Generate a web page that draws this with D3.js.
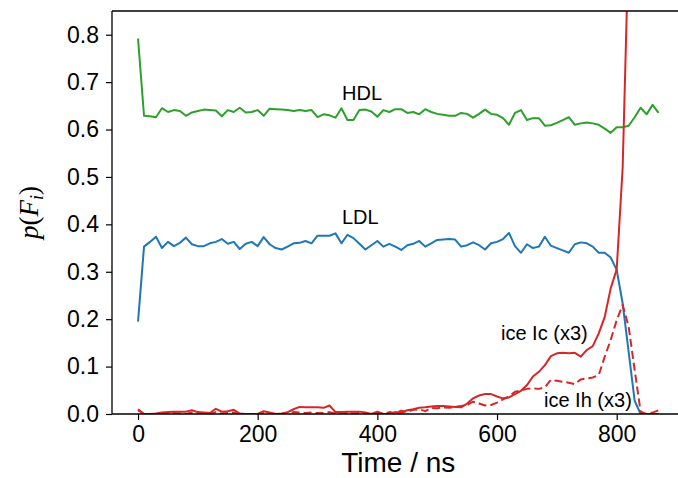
<!DOCTYPE html>
<html>
<head>
<meta charset="utf-8">
<script src="https://cdn.jsdelivr.net/npm/d3@7"></script>
<style>
  html, body { margin: 0; padding: 0; background: #fff; }
  svg { display: block; }
  text { font-family: "Liberation Sans", Arial, Helvetica, sans-serif; fill: #000; }
</style>
</head>
<body>
<svg id="chart" width="678" height="478"></svg>
<script>
const times = [0,10,20,30,40,50,60,70,80,90,100,110,120,130,140,150,160,170,180,190,
  200,210,220,230,240,250,260,270,280,290,300,310,320,330,340,350,360,370,380,390,
  400,410,420,430,440,450,460,470,480,490,500,510,520,530,540,550,560,570,580,590,
  600,610,620,630,640,650,660,670,680,690,700,710,720,730,740,750,760,770,780,790,
  800,810,820,830,840,850,860,870];

const hdl = [0.792,0.629,0.628,0.626,0.645,0.637,0.641,0.639,0.629,0.636,
  0.639,0.642,0.641,0.640,0.628,0.641,0.637,0.646,0.636,0.637,
  0.641,0.629,0.644,0.643,0.642,0.641,0.639,0.641,0.639,0.641,
  0.626,0.632,0.630,0.625,0.645,0.620,0.620,0.641,0.642,0.638,
  0.627,0.641,0.637,0.643,0.643,0.635,0.637,0.632,0.643,0.637,
  0.633,0.631,0.629,0.629,0.635,0.633,0.625,0.633,0.642,0.633,
  0.631,0.624,0.610,0.635,0.641,0.620,0.624,0.624,0.608,0.609,
  0.614,0.620,0.626,0.610,0.613,0.615,0.613,0.610,0.602,0.593,
  0.605,0.605,0.608,0.626,0.646,0.632,0.652,0.635];

const ldl = [0.195,0.353,0.363,0.374,0.350,0.363,0.354,0.361,0.372,0.358,
  0.354,0.354,0.360,0.363,0.369,0.359,0.363,0.348,0.359,0.363,
  0.354,0.373,0.358,0.350,0.347,0.353,0.360,0.361,0.365,0.360,
  0.376,0.376,0.376,0.381,0.360,0.378,0.371,0.359,0.347,0.356,
  0.365,0.353,0.359,0.353,0.346,0.356,0.359,0.365,0.353,0.360,
  0.367,0.368,0.369,0.368,0.353,0.356,0.362,0.356,0.347,0.360,
  0.363,0.369,0.382,0.354,0.340,0.358,0.350,0.353,0.374,0.355,
  0.350,0.345,0.340,0.358,0.362,0.360,0.353,0.340,0.340,0.330,
  0.304,0.233,0.131,0.028,0.0,0.0,0.0,0.0];

const iceIc = [0.010,0.0,0.0,0.001,0.003,0.004,0.005,0.005,0.005,0.008,
  0.004,0.003,0.002,0.011,0.005,0.006,0.009,0.001,0.0,0.0,
  0.0,0.006,0.003,0.0,0.001,0.004,0.010,0.015,0.014,0.014,
  0.014,0.013,0.018,0.004,0.004,0.005,0.005,0.005,0.003,0.0,
  0.005,0.0,0.0,0.004,0.002,0.008,0.010,0.013,0.014,0.016,
  0.017,0.017,0.016,0.015,0.014,0.022,0.033,0.039,0.042,0.042,
  0.037,0.033,0.035,0.042,0.049,0.061,0.079,0.089,0.103,0.122,
  0.128,0.129,0.128,0.129,0.121,0.135,0.143,0.170,0.205,0.265,
  0.305,0.52,1.0,1.6,2.0,2.2,2.3,2.4];

const iceIh = [0.008,0.0,0.0,0.0,0.001,0.0,0.002,0.001,0.0,0.003,
  0.001,0.0,0.0,0.004,0.001,0.002,0.003,0.0,0.0,0.0,
  0.0,0.002,0.001,0.0,0.0,0.002,0.004,0.003,0.002,0.003,
  0.002,0.002,0.004,0.001,0.0,0.002,0.001,0.002,0.0,0.0,
  0.003,0.0,0.004,0.002,0.007,0.004,0.009,0.010,0.006,0.013,
  0.012,0.014,0.013,0.015,0.017,0.019,0.026,0.022,0.018,0.019,
  0.024,0.031,0.037,0.047,0.050,0.053,0.054,0.053,0.056,0.072,
  0.070,0.068,0.066,0.063,0.073,0.075,0.077,0.082,0.121,0.156,
  0.198,0.230,0.184,0.093,0.005,0.0,0.003,0.008];

const xTicks = [0, 200, 400, 600, 800];
const yTicks = [0.0, 0.1, 0.2, 0.3, 0.4, 0.5, 0.6, 0.7, 0.8];

const seriesDefs = [
  {name: "HDL", values: hdl, color: "#2ca02c", dash: null},
  {name: "LDL", values: ldl, color: "#1f77b4", dash: null},
  {name: "ice Ic (x3)", values: iceIc, color: "#d62728", dash: null},
  {name: "ice Ih (x3)", values: iceIh, color: "#d62728", dash: "8,4"}
];

const labels = [
  {text: "HDL", px: 342, py: 100},
  {text: "LDL", px: 342, py: 224},
  {text: "ice Ic (x3)", px: 501, py: 340},
  {text: "ice Ih (x3)", px: 544, py: 407}
];

const svg = d3.select("#chart");
const L = 112, T = 11, B = 414, R = 684.6;

const x = d3.scaleLinear().domain([-43.5, 913.5]).range([L, R]);
const y = d3.scaleLinear().domain([0, 0.85]).range([B, T]);

svg.append("defs").append("clipPath").attr("id", "clip")
  .append("rect").attr("x", L).attr("y", T).attr("width", R - L).attr("height", B - T);

const line = d3.line().x(d => x(d[0])).y(d => y(d[1]));

const g = svg.append("g").attr("clip-path", "url(#clip)");
seriesDefs.forEach(s => {
  g.append("path")
    .datum(times.map((t, i) => [t, s.values[i]]))
    .attr("d", line)
    .attr("fill", "none")
    .attr("stroke", s.color)
    .attr("stroke-width", 2)
    .attr("stroke-linejoin", "round")
    .attr("stroke-dasharray", s.dash);
});

// axes
const xAxis = d3.axisBottom(x).tickValues(xTicks).tickSize(6).tickPadding(6).tickFormat(d3.format("d"));
const yAxis = d3.axisLeft(y).tickValues(yTicks).tickSize(6).tickPadding(7).tickFormat(d3.format(".1f"));

const gx = svg.append("g").attr("transform", `translate(0,${B})`).call(xAxis);
const gy = svg.append("g").attr("transform", `translate(${L},0)`).call(yAxis);
[gx, gy].forEach(ax => {
  ax.select(".domain").remove();
  ax.selectAll(".tick line").attr("stroke", "#000").attr("stroke-width", 1.2);
  ax.selectAll(".tick text").attr("font-size", 23).attr("fill", "#000")
    .style("font-family", '"Liberation Sans", Arial, sans-serif');
});

// spines
svg.append("line").attr("x1", L).attr("x2", L).attr("y1", T).attr("y2", B)
  .attr("stroke", "#000").attr("stroke-width", 1.3);
svg.append("line").attr("x1", L).attr("x2", R).attr("y1", B).attr("y2", B)
  .attr("stroke", "#000").attr("stroke-width", 1.3);
svg.append("line").attr("x1", L).attr("x2", R).attr("y1", T).attr("y2", T)
  .attr("stroke", "#000").attr("stroke-width", 1.3);

// annotations
labels.forEach(l => {
  svg.append("text").attr("x", l.px).attr("y", l.py)
    .attr("font-size", 20).text(l.text);
});

// axis labels
svg.append("text").attr("x", (L + R) / 2).attr("y", 472)
  .attr("text-anchor", "middle").attr("font-size", 28).text("Time / ns");

const yl = svg.append("text")
  .attr("transform", `translate(38,${(T + B) / 2}) rotate(-90)`)
  .attr("text-anchor", "middle")
  .style("font-family", '"Liberation Serif", "DejaVu Serif", serif')
  .attr("font-size", 27);
yl.append("tspan").attr("font-style", "italic").text("p");
yl.append("tspan").text("(");
yl.append("tspan").attr("font-style", "italic").text("F");
yl.append("tspan").attr("font-style", "italic").attr("font-size", 18).attr("dy", 5).text("i");
yl.append("tspan").attr("dy", -5).text(")");
</script>
</body>
</html>
